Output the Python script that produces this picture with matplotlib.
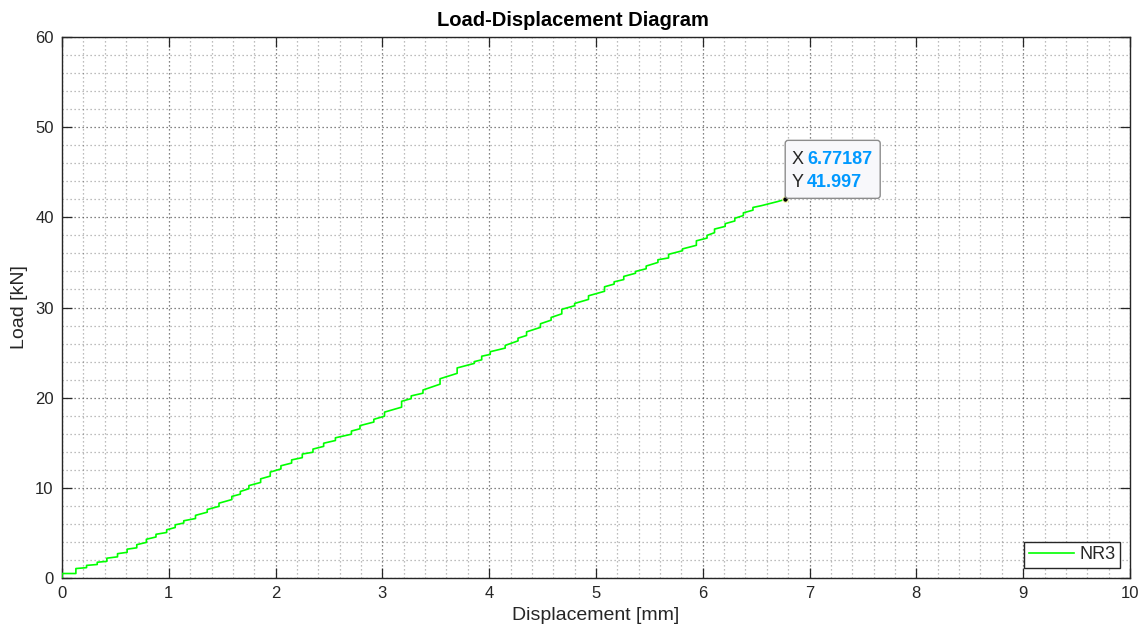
import matplotlib
matplotlib.use('Agg')
import matplotlib.pyplot as plt
from matplotlib.patches import FancyBboxPatch
from matplotlib.transforms import IdentityTransform
from matplotlib.ticker import MultipleLocator

plt.rcParams['font.family'] = ['Liberation Sans', 'DejaVu Sans']

# staircase load-displacement record (vertices)
displacement = [0, 0, 0.13, 0.13, 0.23, 0.23, 0.33, 0.33, 0.42, 0.42, 0.52, 0.52,
                0.61, 0.61, 0.70, 0.70, 0.79, 0.79, 0.88, 0.88, 0.98, 0.98, 1.06, 1.06,
                1.14, 1.14, 1.25, 1.25, 1.36, 1.36, 1.47, 1.47, 1.59, 1.59, 1.67, 1.67,
                1.75, 1.75, 1.86, 1.86, 1.95, 1.95, 2.05, 2.05, 2.15, 2.15, 2.25, 2.25,
                2.35, 2.35, 2.45, 2.45, 2.56, 2.56, 2.71, 2.71, 2.79, 2.79, 2.92, 2.92,
                3.02, 3.02, 3.18, 3.18, 3.27, 3.27, 3.38, 3.38, 3.54, 3.54, 3.70, 3.70,
                3.86, 3.86, 3.93, 3.93, 4.01, 4.01, 4.15, 4.15, 4.27, 4.27, 4.35, 4.35,
                4.48, 4.48, 4.58, 4.58, 4.68, 4.68, 4.80, 4.80, 4.93, 4.93, 5.08, 5.08,
                5.17, 5.17, 5.26, 5.26, 5.37, 5.37, 5.47, 5.47, 5.58, 5.58, 5.68, 5.68,
                5.81, 5.81, 5.94, 5.94, 6.04, 6.04, 6.11, 6.11, 6.21, 6.21, 6.30, 6.30,
                6.38, 6.38, 6.47, 6.47, 6.55, 6.60, 6.70, 6.77187]
load = [0.0, 0.5, 0.5, 1.05, 1.15, 1.4, 1.5, 1.75, 1.85, 2.2, 2.35, 2.7,
        2.85, 3.2, 3.35, 3.7, 3.95, 4.3, 4.55, 4.85, 5.05, 5.35, 5.6, 5.9,
        6.1, 6.35, 6.6, 6.95, 7.3, 7.6, 7.95, 8.3, 8.7, 9.05, 9.3, 9.6,
        9.9, 10.25, 10.6, 11.0, 11.3, 11.75, 12.1, 12.45, 12.75, 13.1, 13.35, 13.75,
        13.95, 14.3, 14.6, 14.95, 15.25, 15.55, 15.95, 16.3, 16.55, 16.9, 17.3, 17.6,
        17.95, 18.4, 18.95, 19.6, 19.9, 20.2, 20.5, 20.85, 21.5, 22.1, 22.7, 23.3,
        23.8, 24.0, 24.2, 24.6, 24.8, 25.1, 25.5, 25.8, 26.3, 26.6, 26.9, 27.3,
        27.8, 28.2, 28.6, 28.9, 29.3, 29.8, 30.2, 30.45, 30.9, 31.3, 31.8, 32.3,
        32.6, 32.85, 33.1, 33.45, 33.8, 34.0, 34.3, 34.6, 35.0, 35.3, 35.5, 35.9,
        36.3, 36.5, 36.9, 37.4, 37.7, 38.0, 38.3, 38.7, 39.0, 39.3, 39.6, 39.9,
        40.2, 40.5, 40.8, 41.1, 41.3, 41.45, 41.75, 41.997]

tip_x = 6.77187
tip_y = 41.997
ink = '#262626'

fig = plt.figure(figsize=(11.46, 6.34), dpi=100)
ax = fig.add_axes([0.0541, 0.0883, 0.9319, 0.8533])

ax.plot(displacement, load, color='#00ff00', lw=1.2, label='NR3', zorder=3)

ax.set_xlim(0, 10)
ax.set_ylim(0, 60)
ax.xaxis.set_major_locator(MultipleLocator(1))
ax.yaxis.set_major_locator(MultipleLocator(10))
ax.xaxis.set_minor_locator(MultipleLocator(0.2))
ax.yaxis.set_minor_locator(MultipleLocator(2))

ax.grid(which='major', linestyle=(0, (1, 2.2)), color=ink, alpha=0.75, lw=0.9)
ax.grid(which='minor', linestyle=(0, (1, 2.2)), color=ink, alpha=0.4, lw=0.9)
ax.set_axisbelow(True)

ax.tick_params(which='major', direction='in', length=7, width=0.9, top=True, right=True,
               labelsize=12, colors=ink, pad=6)
ax.tick_params(which='minor', length=0, top=True, right=True)
for s in ax.spines.values():
    s.set_color(ink)
    s.set_linewidth(1.0)

ax.set_xlabel('Displacement [mm]', fontsize=14, color=ink, labelpad=4)
ax.set_ylabel('Load [kN]', fontsize=14, color=ink, labelpad=5)
fig.text(0.5, 1 - 21 / 634, 'Load-Displacement Diagram', fontsize=14.5, fontweight='bold',
         color='black', ha='center', va='center')

leg = ax.legend(loc='lower right', bbox_to_anchor=(0.9906, 0.0185), borderaxespad=0,
                fancybox=False, edgecolor=ink, fontsize=13, handlelength=2.5,
                handletextpad=0.3, borderpad=0.25, framealpha=1)
leg.get_frame().set_linewidth(1.0)
for t in leg.get_texts():
    t.set_color(ink)

# data tip
ax.plot([tip_x], [tip_y], 'o', ms=4, mfc='black', mec='#ffffb0', mew=0.8, zorder=5)
px, py = ax.transData.transform((tip_x, tip_y))
box = FancyBboxPatch((px, py + 1), 95, 58, boxstyle='round,pad=0,rounding_size=3',
                     transform=IdentityTransform(), facecolor='#f8f8fb', edgecolor='#8c8c8c',
                     lw=1.0, zorder=6)
fig.add_artist(box)
for dy, key, val in [(40, 'X', '6.77187'), (17, 'Y', '41.997')]:
    fig.text(px + 6, py + dy, key, transform=IdentityTransform(), fontsize=13,
             color=ink, va='center', ha='left', zorder=7)
    fig.text(px + 22, py + dy, val, transform=IdentityTransform(), fontsize=13,
             color='#0099ff', fontweight='bold', va='center', ha='left', zorder=7)

fig.savefig('out.png', dpi=100)
